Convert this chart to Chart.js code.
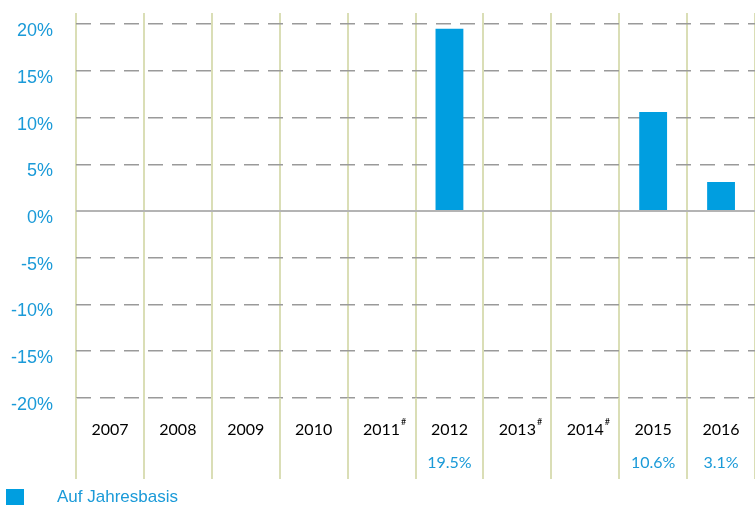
<!DOCTYPE html>
<html>
<head>
<meta charset="utf-8">
<script src="https://cdn.jsdelivr.net/npm/chart.js@4"></script>
<style>
  html, body { margin: 0; padding: 0; background: #fff; overflow: hidden; }
  #wrap { position: relative; width: 755px; height: 509px; }
  #legend { position: absolute; left: 6px; top: 487px; font: 17px "Liberation Sans", Arial, sans-serif; color: #1a9ad8; }
  #legend span.box { position: absolute; left: 0; top: 2px; width: 18px; height: 16px; background: #009ee0; }
  #legend span.txt { position: absolute; left: 51px; top: 0; white-space: nowrap; }
</style>
</head>
<body>
<div id="wrap">
  <canvas id="chart" width="755" height="509"></canvas>
  <div id="legend"><span class="box"></span><span class="txt">Auf Jahresbasis</span></div>
</div>
<script>
// jahre, "#" = hochgestellte Fussnote
const years = ['2007', '2008', '2009', '2010', '2011#', '2012', '2013#', '2014#', '2015', '2016'];
const yearlyValues = [null, null, null, null, null, 19.5, null, null, 10.6, 3.1];
const valueLabels = ['', '', '', '', '', '19.5%', '', '', '10.6%', '3.1%'];
const yTicks = [-20, -15, -10, -5, 0, 5, 10, 15, 20];

const BLUE = '#009ee0';
const TEXT_BLUE = '#1a9ad8';
const OLIVE = '#dadeb6';

// verlaengert die senkrechten linien in die tabelle, schreibt werte + fussnoten
const tablePlugin = {
    id: 'table',
    afterDraw(chart) {
        const ctx = chart.ctx;
        const x = chart.scales.x;
        const area = chart.chartArea;
        ctx.save();
        ctx.strokeStyle = OLIVE;
        ctx.lineWidth = 2;
        for (let i = 0; i <= years.length; i++) {
            const px = Math.round(x.getPixelForValue(i - 0.5));
            ctx.beginPath();
            ctx.moveTo(px, area.bottom);
            ctx.lineTo(px, 479);
            ctx.stroke();
        }
        ctx.font = '16px Lato, sans-serif';
        ctx.fillStyle = '#000';
        ctx.textBaseline = 'middle';
        years.forEach((y, i) => {
            if (!y.endsWith('#')) return;
            const base = y.replace('#', '');
            const w = ctx.measureText(base).width;
            const cx = x.getPixelForValue(i);
            ctx.font = '9px Lato, sans-serif';
            ctx.textAlign = 'left';
            ctx.fillText('#', cx + w / 2 + 1, 422);
            ctx.font = '16px Lato, sans-serif';
        });
        ctx.font = '16px Lato, sans-serif';
        ctx.fillStyle = TEXT_BLUE;
        ctx.textAlign = 'center';
        valueLabels.forEach((v, i) => {
            if (v) ctx.fillText(v, x.getPixelForValue(i), 463);
        });
        ctx.restore();
    }
};

new Chart(document.getElementById('chart'), {
    type: 'bar',
    data: {
        labels: years,
        datasets: [{
            label: 'Auf Jahresbasis',
            data: yearlyValues,
            backgroundColor: BLUE,
            barPercentage: 0.41,
            categoryPercentage: 1
        }]
    },
    options: {
        responsive: false,
        animation: false,
        layout: { padding: { top: 13, right: 0, bottom: 0, left: 0 } },
        plugins: { legend: { display: false }, tooltip: { enabled: false } },
        scales: {
            x: {
                z: 1,
                grid: { color: OLIVE, lineWidth: 2, drawTicks: false, offset: true },
                border: { display: false },
                ticks: {
                    padding: 23,
                    color: '#000',
                    font: { family: 'Lato', size: 16 },
                    callback: function (val) { return years[val].replace('#', ''); }
                },
                afterFit: s => { s.height = 111.3; s.paddingLeft = 0; s.paddingRight = 0; }
            },
            y: {
                min: -20,
                max: 21.2,
                afterBuildTicks: s => { s.ticks = yTicks.map(v => ({ value: v })); },
                grid: {
                    drawTicks: false,
                    color: c => c.tick && c.tick.value === 0 ? '#b4b4b4' : '#9a9a9a',
                    lineWidth: c => c.tick && c.tick.value === 0 ? 2 : 1.5
                },
                border: {
                    display: false,
                    dash: c => c.tick && c.tick.value === 0 ? [] : [15, 9]
                },
                ticks: {
                    padding: 23,
                    labelOffset: 7,
                    color: TEXT_BLUE,
                    font: { family: 'Liberation Sans', size: 18 },
                    callback: v => v + '%'
                },
                afterFit: s => { s.width = 76; s.paddingTop = 0; s.paddingBottom = 0; }
            }
        }
    },
    plugins: [tablePlugin]
});
</script>
</body>
</html>
